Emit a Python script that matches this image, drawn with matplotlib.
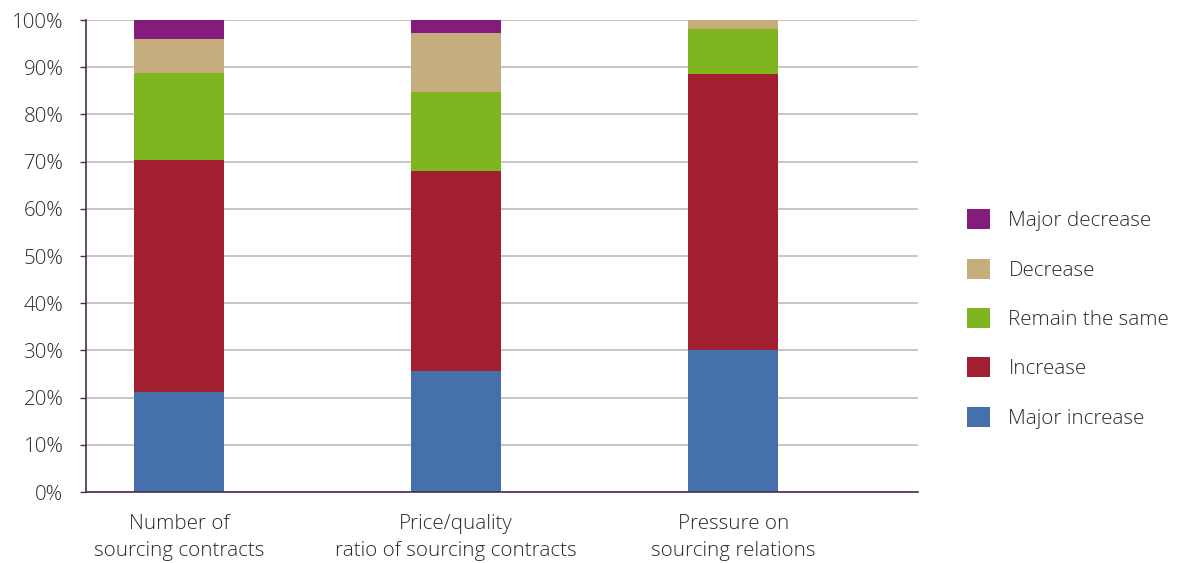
import matplotlib
matplotlib.use("Agg")
import matplotlib.pyplot as plt
from matplotlib.patches import Patch

categories = ["Number of\nsourcing contracts",
              "Price/quality\nratio of sourcing contracts",
              "Pressure on\nsourcing relations"]
series_names = ["Major increase", "Increase", "Remain the same", "Decrease", "Major decrease"]
major_increase = [21.2, 25.6, 30.1]
increase = [49.1, 42.4, 58.5]
remain_same = [18.5, 16.7, 9.5]
decrease = [7.2, 12.5, 1.9]
major_decrease = [4.0, 2.8, 0.0]
colors = ["#4570AB", "#A21E31", "#7FB51F", "#C6AD7E", "#841C7C"]
yticks = [0, 10, 20, 30, 40, 50, 60, 70, 80, 90, 100]

plt.rcParams["font.family"] = ["Open Sans", "DejaVu Sans"]
plt.rcParams["font.weight"] = 300
text_color = "#2A2A2A"
axis_color = "#4A2C4E"
fs = 14.8

fig = plt.figure(figsize=(11.84, 5.63), dpi=100)
ax = fig.add_axes([86 / 1184, 1 - 492 / 563, 832 / 1184, 472 / 563])

series = [major_increase, increase, remain_same, decrease, major_decrease]
x = list(range(len(categories)))
bottom = [0.0] * len(categories)
for vals, col in zip(series, colors):
    ax.bar(x, vals, width=0.325, bottom=bottom, color=col, zorder=3, linewidth=0)
    bottom = [b + v for b, v in zip(bottom, vals)]

ax.set_xlim(-0.335, 2.667)
ax.set_ylim(0, 100)
ax.set_yticks(yticks)
ax.set_yticklabels([f"{t}%" for t in yticks], fontsize=fs, color=text_color)
ax.set_xticks(x)
ax.set_xticklabels(categories, fontsize=fs, color=text_color, linespacing=1.48)
ax.tick_params(axis="x", length=0, pad=16)
ax.tick_params(axis="y", length=4.3, width=1, color=axis_color, pad=12)
ax.yaxis.grid(True, color="#C2C2C2", linewidth=1.3, zorder=0)
ax.set_axisbelow(True)
for side in ["top", "right"]:
    ax.spines[side].set_visible(False)
for side in ["left", "bottom"]:
    ax.spines[side].set_color(axis_color)
    ax.spines[side].set_linewidth(1.2)
    ax.spines[side].set_zorder(4)

handles = [Patch(facecolor=c, edgecolor="none") for c in colors]
leg = fig.legend(handles[::-1], series_names[::-1], loc="center left",
                 bbox_to_anchor=(948 / 1184, 1 - 319 / 563), frameon=False,
                 fontsize=fs, handlelength=1.12, handleheight=1.12,
                 handletextpad=0.92, labelspacing=1.33)
for t in leg.get_texts():
    t.set_color(text_color)

fig.savefig("out.png", dpi=100)
